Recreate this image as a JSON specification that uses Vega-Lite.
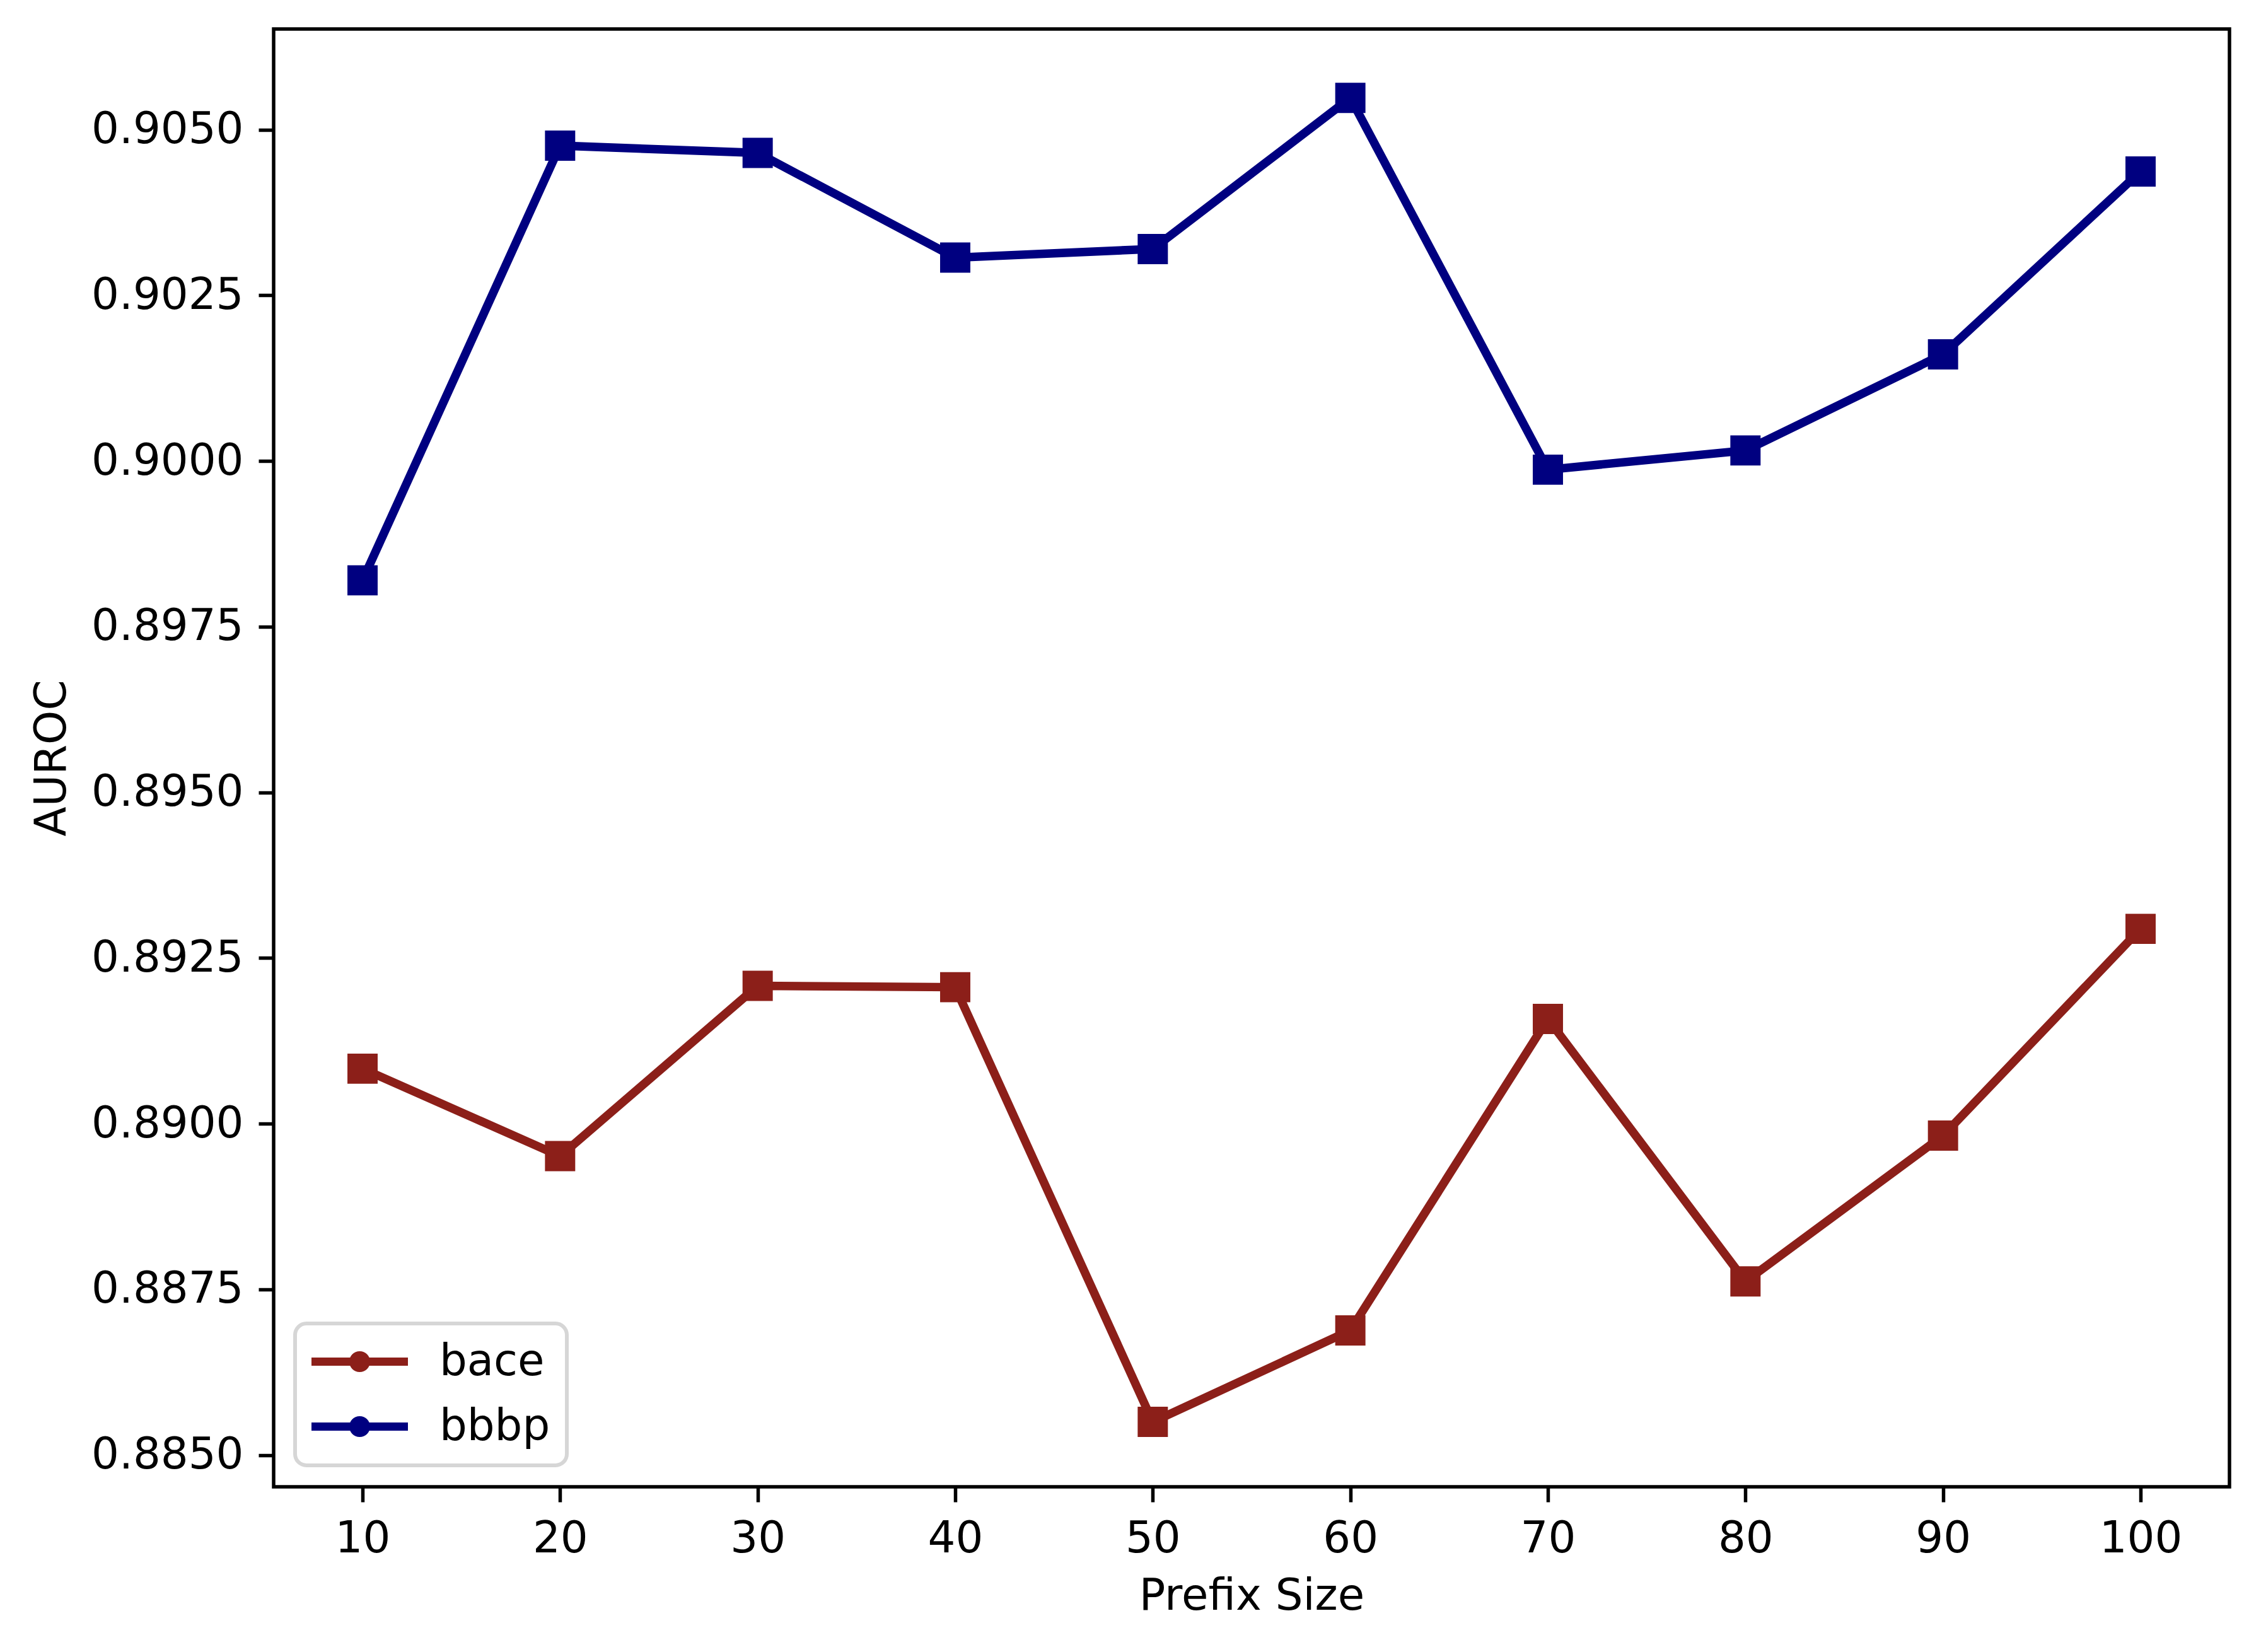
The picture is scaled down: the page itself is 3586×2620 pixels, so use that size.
{
  "$schema": "https://vega.github.io/schema/vega-lite/v6.json",
  "width": 3102,
  "height": 2312,
  "autosize": {"type": "none"},
  "padding": {"left": 434, "top": 46, "right": 50, "bottom": 262},
  "background": "white",
  "config": {
    "font": "DejaVu Sans",
    "view": {"stroke": "black", "strokeWidth": 5.5},
    "axis": {
      "domain": false,
      "grid": false,
      "labelFont": "DejaVu Sans",
      "labelFontSize": 69,
      "labelColor": "black",
      "labelLimit": 0,
      "titleFont": "DejaVu Sans",
      "titleFontSize": 69,
      "titleFontWeight": "normal",
      "titleColor": "black",
      "tickColor": "black",
      "tickSize": 24,
      "tickWidth": 5.5,
      "labelPadding": 24
    },
    "legend": {"strokeWidth": 6}
  },
  "data": {
    "values": [
      {"prefix": 10, "dataset": "bace", "auroc": 0.89083},
      {"prefix": 20, "dataset": "bace", "auroc": 0.88951},
      {"prefix": 30, "dataset": "bace", "auroc": 0.89208},
      {"prefix": 40, "dataset": "bace", "auroc": 0.89206},
      {"prefix": 50, "dataset": "bace", "auroc": 0.88550},
      {"prefix": 60, "dataset": "bace", "auroc": 0.88688},
      {"prefix": 70, "dataset": "bace", "auroc": 0.89158},
      {"prefix": 80, "dataset": "bace", "auroc": 0.88762},
      {"prefix": 90, "dataset": "bace", "auroc": 0.88982},
      {"prefix": 100, "dataset": "bace", "auroc": 0.89294},
      {"prefix": 10, "dataset": "bbbp", "auroc": 0.89820},
      {"prefix": 20, "dataset": "bbbp", "auroc": 0.90476},
      {"prefix": 30, "dataset": "bbbp", "auroc": 0.90465},
      {"prefix": 40, "dataset": "bbbp", "auroc": 0.90307},
      {"prefix": 50, "dataset": "bbbp", "auroc": 0.90320},
      {"prefix": 60, "dataset": "bbbp", "auroc": 0.90548},
      {"prefix": 70, "dataset": "bbbp", "auroc": 0.89987},
      {"prefix": 80, "dataset": "bbbp", "auroc": 0.90016},
      {"prefix": 90, "dataset": "bbbp", "auroc": 0.90161},
      {"prefix": 100, "dataset": "bbbp", "auroc": 0.90437}
    ]
  },
  "encoding": {
    "x": {
      "field": "prefix",
      "type": "quantitative",
      "scale": {"domain": [5.5, 104.5], "nice": false, "zero": false},
      "axis": {
        "title": "Prefix Size",
        "values": [10, 20, 30, 40, 50, 60, 70, 80, 90, 100],
        "titlePadding": 22
      }
    },
    "y": {
      "field": "auroc",
      "type": "quantitative",
      "scale": {"domain": [0.88452, 0.90652], "nice": false, "zero": false},
      "axis": {
        "title": "AUROC",
        "values": [0.885, 0.8875, 0.89, 0.8925, 0.895, 0.8975, 0.9, 0.9025, 0.905],
        "format": ".4f",
        "titleX": -331,
        "titleY": 1156,
        "titleAngle": 270,
        "titleBaseline": "alphabetic",
        "titleAlign": "center"
      }
    },
    "color": {
      "field": "dataset",
      "type": "nominal",
      "scale": {"domain": ["bace", "bbbp"], "range": ["#8c1f19", "#000080"]},
      "legend": {
        "title": null,
        "orient": "bottom-left",
        "offset": 34,
        "fillColor": "white",
        "strokeColor": "#d6d6d6",
        "cornerRadius": 18,
        "padding": 26,
        "symbolType": "M-1,-0.085H1V0.085H-1Z M-0.216,0A0.216,0.216 0 1,1 0.216,0A0.216,0.216 0 1,1 -0.216,0Z",
        "symbolSize": 23409,
        "symbolStrokeWidth": 0,
        "symbolOpacity": 1,
        "clipHeight": 69,
        "rowPadding": 33,
        "labelFontSize": 69,
        "labelFont": "DejaVu Sans",
        "labelColor": "black",
        "labelLimit": 0,
        "labelOffset": 50
      }
    }
  },
  "layer": [
    {
      "mark": {"type": "line", "strokeWidth": 13.5}
    },
    {
      "mark": {"type": "point", "shape": "square", "filled": true, "size": 2300, "opacity": 1}
    }
  ]
}
